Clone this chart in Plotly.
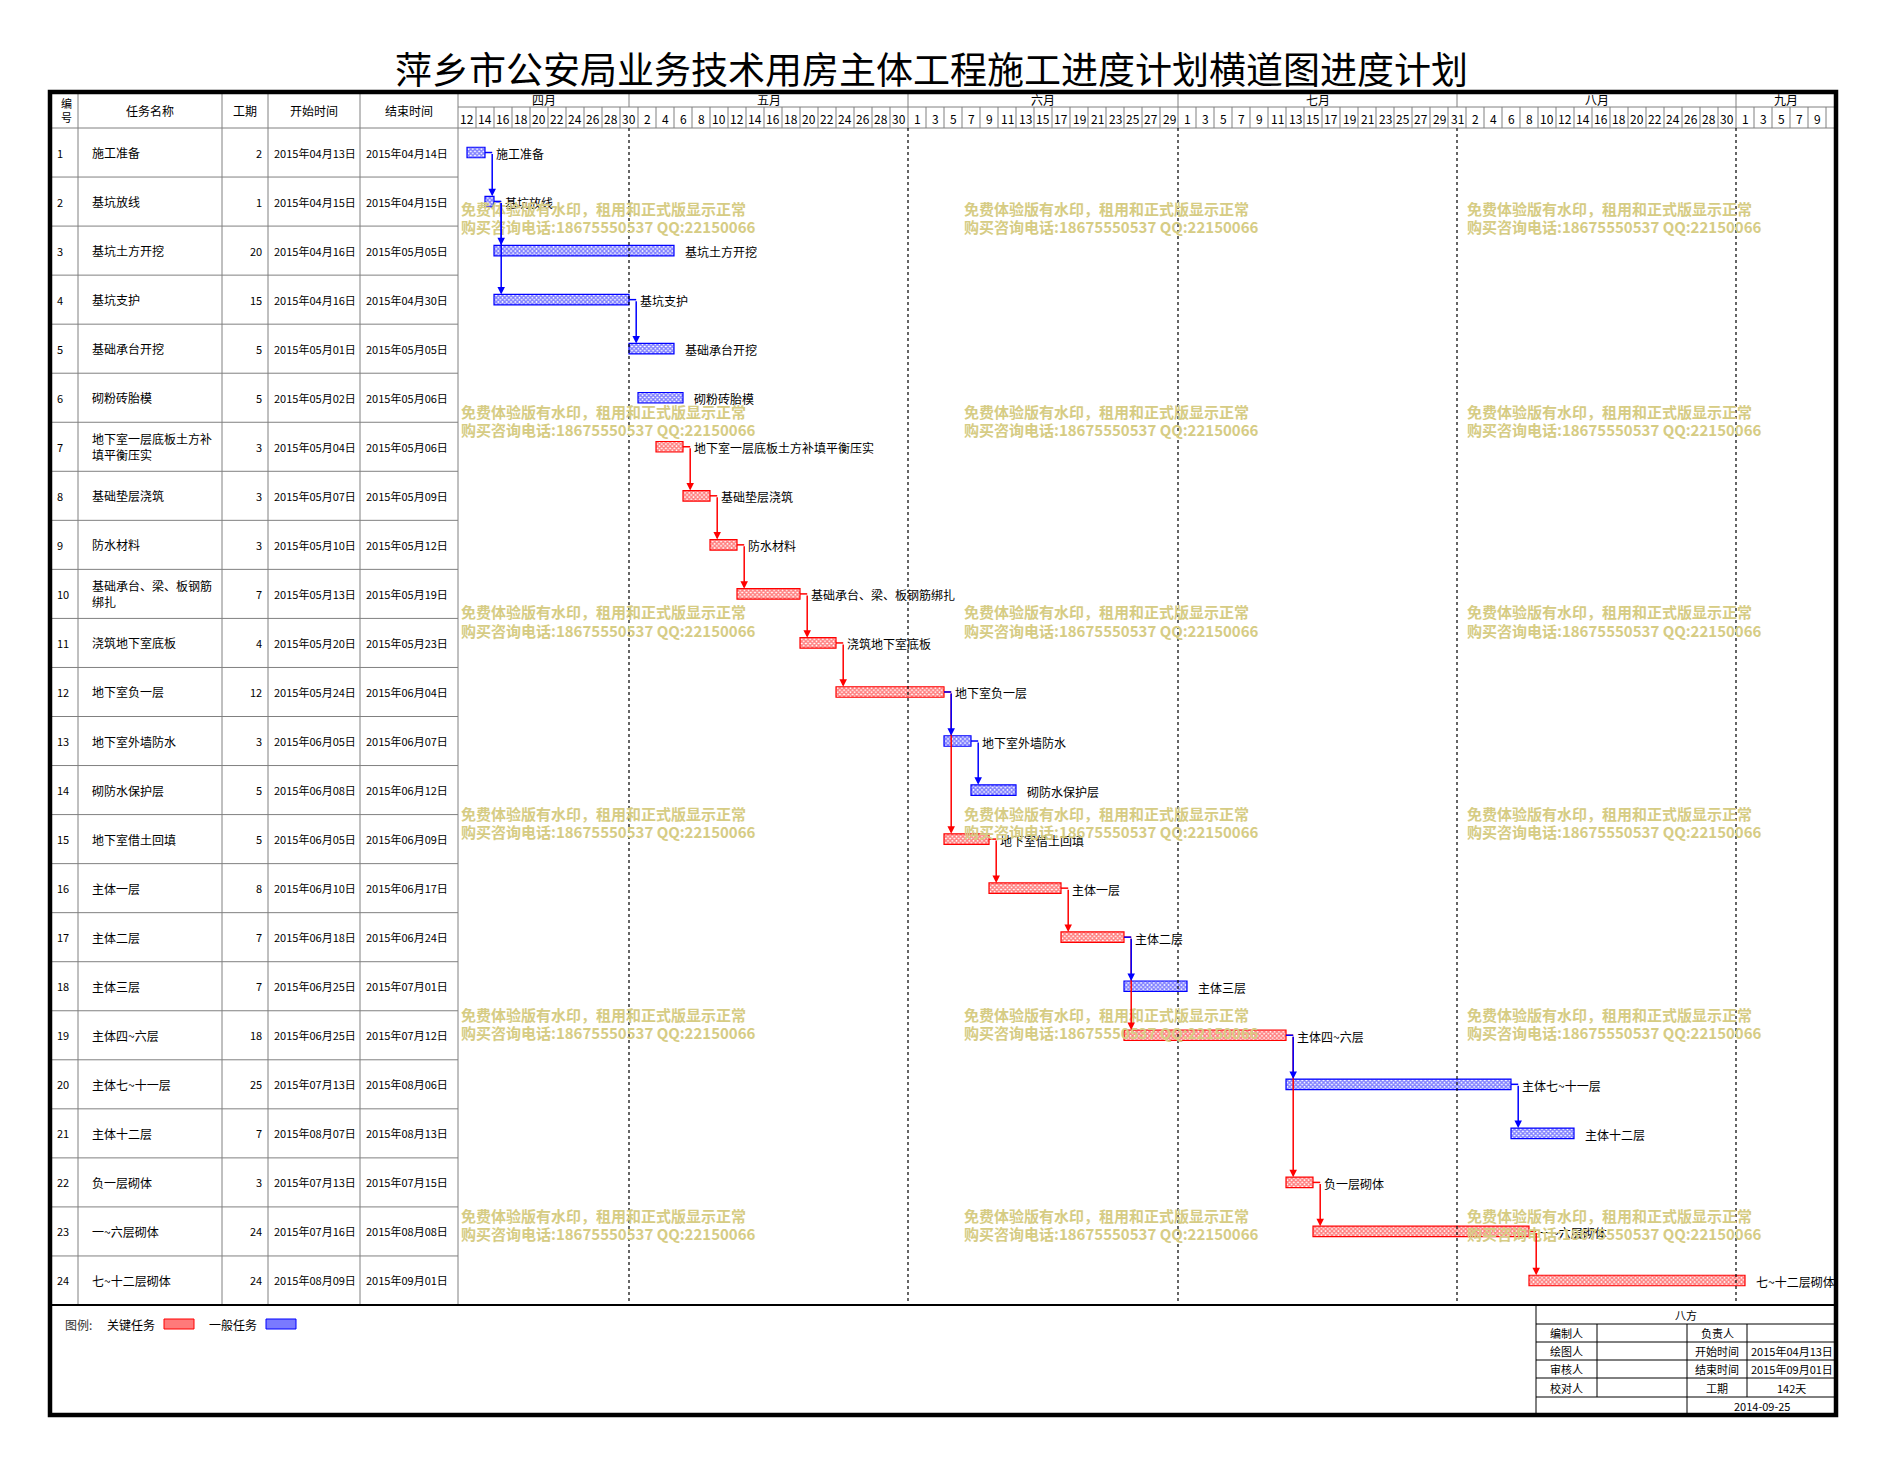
import plotly.graph_objects as go
import pandas as pd

# page is drawn with an 8px body margin; figure is sized to fit the window exactly
PAGE_W, PAGE_H = 1885, 1465
PAD = 8
W, H = PAGE_W - 2 * PAD, PAGE_H - 2 * PAD
FONT = "Noto Sans CJK SC"

# ---------------- data ----------------
task_ids = list(range(1, 25))
task_names = [
    "施工准备", "基坑放线", "基坑土方开挖", "基坑支护", "基础承台开挖", "砌粉砖胎模",
    "地下室一层底板土方补<br>填平衡压实", "基础垫层浇筑", "防水材料",
    "基础承台、梁、板钢筋<br>绑扎", "浇筑地下室底板", "地下室负一层", "地下室外墙防水",
    "砌防水保护层", "地下室借土回填", "主体一层", "主体二层", "主体三层",
    "主体四~六层", "主体七~十一层", "主体十二层", "负一层砌体", "一~六层砌体",
    "七~十二层砌体",
]
bar_labels = [
    "施工准备", "基坑放线", "基坑土方开挖", "基坑支护", "基础承台开挖", "砌粉砖胎模",
    "地下室一层底板土方补填平衡压实", "基础垫层浇筑", "防水材料",
    "基础承台、梁、板钢筋绑扎", "浇筑地下室底板", "地下室负一层", "地下室外墙防水",
    "砌防水保护层", "地下室借土回填", "主体一层", "主体二层", "主体三层",
    "主体四~六层", "主体七~十一层", "主体十二层", "负一层砌体", "一~六层砌体",
    "七~十二层砌体",
]
durations = [2, 1, 20, 15, 5, 5, 3, 3, 3, 7, 4, 12, 3, 5, 5, 8, 7, 7, 18, 25, 7, 3, 24, 24]
start_dates = [
    "2015-04-13", "2015-04-15", "2015-04-16", "2015-04-16", "2015-05-01", "2015-05-02",
    "2015-05-04", "2015-05-07", "2015-05-10", "2015-05-13", "2015-05-20", "2015-05-24",
    "2015-06-05", "2015-06-08", "2015-06-05", "2015-06-10", "2015-06-18", "2015-06-25",
    "2015-06-25", "2015-07-13", "2015-08-07", "2015-07-13", "2015-07-16", "2015-08-09",
]
end_dates = [
    "2015-04-14", "2015-04-15", "2015-05-05", "2015-04-30", "2015-05-05", "2015-05-06",
    "2015-05-06", "2015-05-09", "2015-05-12", "2015-05-19", "2015-05-23", "2015-06-04",
    "2015-06-07", "2015-06-12", "2015-06-09", "2015-06-17", "2015-06-24", "2015-07-01",
    "2015-07-12", "2015-08-06", "2015-08-13", "2015-07-15", "2015-08-08", "2015-09-01",
]
critical = [0, 0, 0, 0, 0, 0, 1, 1, 1, 1, 1, 1, 0, 0, 1, 1, 1, 0, 1, 0, 0, 1, 1, 1]
# (predecessor, successor); farther successor listed first so the nearer is drawn on top
links = [(1, 2), (2, 4), (2, 3), (4, 5), (7, 8), (8, 9), (9, 10), (10, 11), (11, 12),
         (12, 15), (12, 13), (13, 14), (15, 16), (16, 17), (17, 19), (17, 18),
         (19, 22), (19, 20), (20, 21), (22, 23), (23, 24)]
month_names = ["四月", "五月", "六月", "七月", "八月", "九月"]
month_starts = ["2015-04-12", "2015-05-01", "2015-06-01", "2015-07-01", "2015-08-01", "2015-09-01"]
timeline_start = "2015-04-12"

info_rows = [("编制人", "负责人", ""), ("绘图人", "开始时间", "2015年04月13日"),
             ("审核人", "结束时间", "2015年09月01日"), ("校对人", "工期", "142天")]
info_title = "八方"
info_date = "2014-09-25"
title_text = "萍乡市公安局业务技术用房主体工程施工进度计划横道图进度计划"
watermark_1 = "免费体验版有水印，租用和正式版显示正常"
watermark_2 = "购买咨询电话:18675550537 QQ:22150066"

RED = "#ff0000"
BLUE = "#0000ff"
GRID = "#808080"

# ---------------- geometry (page pixels) ----------------
X_L, X_COLS, X_T, X_R = 50, [78, 222, 268, 360], 458, 1836
Y_TOP, Y_MON, Y_HDR, Y_BOT, Y_FB = 92, 107, 128, 1305, 1415
PXD = 9.0
NROW = len(task_ids)
ROWH = (Y_BOT - Y_HDR) / NROW
XMAX = (X_R - X_T) / PXD
BW = 10.5 / ROWH


def fx(p):
    return (p - PAD) / W


def fy(p):
    return 1 - (p - PAD) / H


origin = pd.Timestamp(timeline_start)
sd = pd.to_datetime(pd.Series(start_dates))
base = [(d - origin).days for d in sd]
ends = [b + d for b, d in zip(base, durations)]
rows = [i - 1 for i in task_ids]

fig = go.Figure()
for flag, col in [(1, RED), (0, BLUE)]:
    idx = [i for i in range(NROW) if critical[i] == flag]
    fig.add_trace(go.Bar(
        orientation="h",
        y=[rows[i] for i in idx],
        x=[durations[i] for i in idx],
        base=[base[i] for i in idx],
        width=BW,
        marker=dict(color="white", line=dict(color=col, width=1.2),
                    pattern=dict(shape="x", fgcolor=col, bgcolor="white", size=3, solidity=0.7)),
        hoverinfo="skip", showlegend=False,
    ))

shapes = []
ann = []


def line(x0, y0, x1, y1, color="black", width=1, dash=None, xref="paper", yref="paper"):
    d = dict(type="line", x0=x0, y0=y0, x1=x1, y1=y1, xref=xref, yref=yref,
             line=dict(color=color, width=width))
    if dash:
        d["line"]["dash"] = dash
    shapes.append(d)


def text(x, y, s, size=12, color="black", xanchor="center", yanchor="middle", xref="paper", yref="paper", **kw):
    ann.append(dict(x=x, y=y, text=s, xref=xref, yref=yref, showarrow=False, xanchor=xanchor,
                    yanchor=yanchor, font=dict(family=FONT, size=size, color=color), **kw))


# ---------------- table grid ----------------
for r in range(1, NROW):
    line(fx(X_L), r - 0.5, fx(X_T), r - 0.5, GRID, 1, yref="y")
for xc in X_COLS + [X_T]:
    line(fx(xc), fy(Y_TOP), fx(xc), fy(Y_BOT), GRID, 1)
line(fx(X_L), fy(Y_HDR), fx(X_R), fy(Y_HDR), GRID, 1)
line(fx(X_T), fy(Y_MON), fx(X_R), fy(Y_MON), GRID, 1)

# header texts
hy = fy((Y_TOP + Y_HDR) / 2)
text(fx((X_L + X_COLS[0]) / 2 + 2), hy, "编<br>号", 11)
text(fx((X_COLS[0] + X_COLS[1]) / 2), hy, "任务名称", 12)
text(fx((X_COLS[1] + X_COLS[2]) / 2), hy, "工期", 12)
text(fx((X_COLS[2] + X_COLS[3]) / 2), hy, "开始时间", 12)
text(fx((X_COLS[3] + X_T) / 2), hy, "结束时间", 12)

# month row
mdays = [(pd.Timestamp(m) - origin).days for m in month_starts] + [XMAX]
for i, nm in enumerate(month_names):
    text((mdays[i] + mdays[i + 1]) / 2, fy((Y_TOP + Y_MON) / 2), nm, 12, xref="x")
    if i > 0:
        line(mdays[i], fy(Y_TOP), mdays[i], fy(Y_MON), GRID, 1, xref="x")
        line(mdays[i], fy(Y_HDR), mdays[i], fy(Y_BOT), "black", 1.2, "dot", xref="x")

# day cells
cells = pd.date_range(origin, pd.Timestamp("2015-09-12"), freq="2D")
for i, c in enumerate(cells):
    x0 = 2 * i
    if i > 0:
        line(x0, fy(Y_MON), x0, fy(Y_HDR), GRID, 1, xref="x")
    if x0 + 2 <= XMAX:
        text(x0 + 1, fy((Y_MON + Y_HDR) / 2 + 1), str(c.day), 12, xref="x")

# table rows
for i in range(NROW):
    r = rows[i]
    text(fx(55), r, str(task_ids[i]), 11, xanchor="left", yref="y")
    text(fx(90), r, task_names[i], 12, xanchor="left", yref="y", align="left")
    text(fx(264), r, str(durations[i]), 11, xanchor="right", yref="y")
    s = pd.Timestamp(start_dates[i]).strftime("%Y年%m月%d日")
    e = pd.Timestamp(end_dates[i]).strftime("%Y年%m月%d日")
    text(fx(272), r, s, 11, xanchor="left", yref="y")
    text(fx(364), r, e, 11, xanchor="left", yref="y")
    # bar label
    text(ends[i] + 1.0, r + 0.02, bar_labels[i], 12, xanchor="left", yref="y", xref="x")

# ---------------- watermark ----------------
wm_x = [459, 962, 1465]
wm_y = [209, 411, 612, 813, 1014, 1215]
for yy in wm_y:
    for xx in wm_x:
        ann.append(dict(x=fx(xx), y=fy(yy), text="<b>" + watermark_1 + "</b>", xref="paper", yref="paper",
                        showarrow=False, xanchor="left", yanchor="middle",
                        font=dict(family=FONT, size=15, color="rgb(214,204,132)")))
        ann.append(dict(x=fx(xx), y=fy(yy + 18), text="<b>" + watermark_2 + "</b>", xref="paper", yref="paper",
                        showarrow=False, xanchor="left", yanchor="middle",
                        font=dict(family=FONT, size=15, color="rgb(214,204,132)")))

# ---------------- connectors ----------------
OFF = 0.8
for p, s in links:
    pi, si = p - 1, s - 1
    col = RED if critical[si] else BLUE
    cx = ends[pi] + OFF
    line(ends[pi], rows[pi], cx, rows[pi], col, 1.5, xref="x", yref="y")
    ann.append(dict(x=cx, y=rows[si] - BW / 2, ax=cx, ay=rows[pi], xref="x", yref="y",
                    axref="x", ayref="y", showarrow=True, arrowhead=2, arrowsize=1,
                    arrowwidth=1.5, arrowcolor=col, text="", standoff=0))

# ---------------- bottom area ----------------
line(fx(X_L), fy(Y_BOT), fx(X_R), fy(Y_BOT), "black", 1.8)
# legend
text(fx(63), fy(1324), "图例:", 12, "#333333", xanchor="left")
text(fx(105), fy(1324), "关键任务", 12, xanchor="left")
shapes.append(dict(type="rect", xref="paper", yref="paper", x0=fx(164), x1=fx(194), y0=fy(1329), y1=fy(1319),
                   fillcolor="#ff7a7a", line=dict(color=RED, width=1)))
text(fx(207), fy(1324), "一般任务", 12, xanchor="left")
shapes.append(dict(type="rect", xref="paper", yref="paper", x0=fx(266), x1=fx(296), y0=fy(1329), y1=fy(1319),
                   fillcolor="#7a7aff", line=dict(color=BLUE, width=1)))

# info table
IX0, IXC1, IXC2, IXC3 = 1536, 1597, 1687, 1747
IY = [1305, 1324, 1342, 1360, 1378, 1397, Y_FB]
line(fx(IX0), fy(IY[0]), fx(IX0), fy(IY[-1]), "black", 1)
for yy in IY[1:-1]:
    line(fx(IX0), fy(yy), fx(X_R), fy(yy), "black", 1)
line(fx(IXC1), fy(IY[1]), fx(IXC1), fy(IY[5]), "black", 1)
line(fx(IXC2), fy(IY[1]), fx(IXC2), fy(IY[-1]), "black", 1)
line(fx(IXC3), fy(IY[1]), fx(IXC3), fy(IY[5]), "black", 1)
text(fx((IX0 + X_R) / 2), fy((IY[0] + IY[1]) / 2), info_title, 11)
for k, (a, b, c) in enumerate(info_rows):
    yy = fy((IY[k + 1] + IY[k + 2]) / 2)
    text(fx((IX0 + IXC1) / 2), yy, a, 11)
    text(fx((IXC2 + IXC3) / 2), yy, b, 11)
    text(fx((IXC3 + X_R) / 2), yy, c, 11)
text(fx((IXC2 + X_R) / 2), fy((IY[5] + IY[6]) / 2), info_date, 11)

# outer frame
shapes.append(dict(type="rect", xref="paper", yref="paper", x0=fx(X_L), x1=fx(X_R), y0=fy(Y_FB), y1=fy(Y_TOP),
                   line=dict(color="black", width=4.5), fillcolor="rgba(0,0,0,0)"))

# title
text(fx(931), fy(68), title_text, 37)

fig.update_layout(
    width=W, height=H, margin=dict(l=0, r=0, t=0, b=0),
    paper_bgcolor="white", plot_bgcolor="white",
    xaxis=dict(domain=[fx(X_T), fx(X_R)], range=[0, XMAX], showgrid=False, zeroline=False,
               showticklabels=False, ticks="", fixedrange=True),
    yaxis=dict(domain=[fy(Y_BOT), fy(Y_HDR)], range=[NROW - 0.5, -0.5], showgrid=False, zeroline=False,
               showticklabels=False, ticks="", fixedrange=True),
    shapes=shapes, annotations=ann, barmode="overlay", showlegend=False,
)
fig.write_html("out.html")
